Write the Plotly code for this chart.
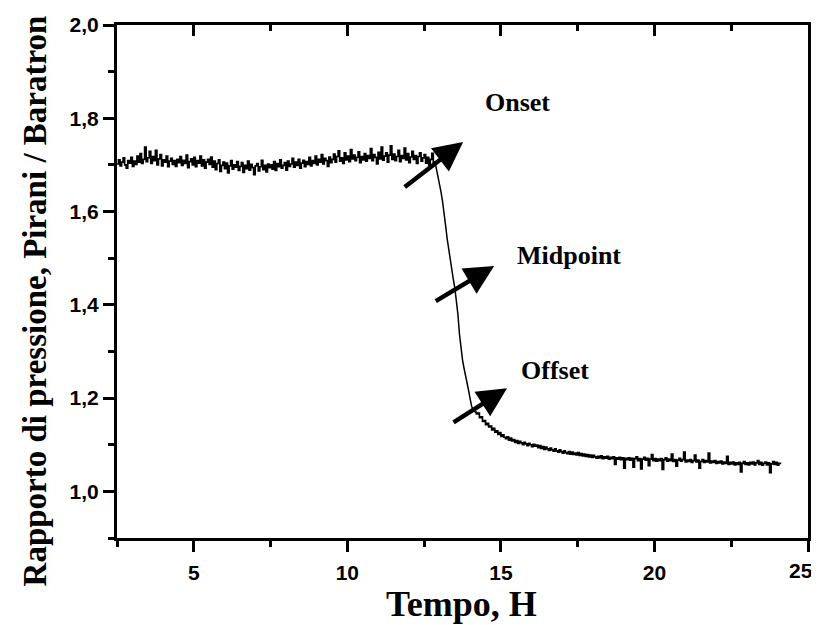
import numpy as np
import plotly.graph_objects as go

# ---------------- data ----------------
# noisy plateau, sampled every 0.05 h from 2.5 h
base_t0, base_dt = 2.5, 0.05
base_y = [
    1.702, 1.711, 1.698, 1.706, 1.715, 1.700, 1.693, 1.709, 1.704, 1.716, 1.697, 1.708, 1.701, 1.719, 1.706, 1.724, 1.703, 1.712, 1.738, 1.707,
    1.715, 1.729, 1.703, 1.718, 1.709, 1.731, 1.700, 1.713, 1.722, 1.698, 1.711, 1.706, 1.719, 1.696, 1.708, 1.714, 1.701, 1.709, 1.697, 1.712,
    1.705, 1.718, 1.699, 1.710, 1.703, 1.721, 1.694, 1.707, 1.713, 1.700, 1.716, 1.696, 1.709, 1.704, 1.719, 1.698, 1.711, 1.693, 1.706, 1.712,
    1.701, 1.717, 1.695, 1.708, 1.690, 1.703, 1.711, 1.686, 1.699, 1.706, 1.692, 1.704, 1.683, 1.698, 1.709, 1.691, 1.700, 1.695, 1.707, 1.688,
    1.697, 1.705, 1.684, 1.699, 1.692, 1.708, 1.689, 1.701, 1.694, 1.679, 1.698, 1.703, 1.687, 1.696, 1.710, 1.690, 1.699, 1.685, 1.702, 1.694,
    1.700, 1.691, 1.707, 1.688, 1.703, 1.696, 1.711, 1.693, 1.699, 1.705, 1.689, 1.708, 1.697, 1.702, 1.714, 1.695, 1.706, 1.699, 1.712, 1.693,
    1.704, 1.710, 1.696, 1.707, 1.701, 1.716, 1.698, 1.709, 1.703, 1.719, 1.700, 1.712, 1.706, 1.722, 1.702, 1.714, 1.709, 1.697, 1.717, 1.705,
    1.712, 1.723, 1.706, 1.718, 1.730, 1.708, 1.715, 1.703, 1.726, 1.711, 1.719, 1.707, 1.733, 1.713, 1.721, 1.709, 1.716, 1.728, 1.705, 1.718,
    1.711, 1.724, 1.708, 1.720, 1.714, 1.735, 1.709, 1.722, 1.716, 1.702, 1.727, 1.713, 1.738, 1.710, 1.719, 1.726, 1.706, 1.721, 1.741, 1.712,
    1.723, 1.709, 1.718, 1.731, 1.707, 1.720, 1.714, 1.736, 1.711, 1.724, 1.705, 1.717, 1.729, 1.712, 1.720, 1.703, 1.718, 1.726, 1.708, 1.715,
    1.722, 1.704, 1.716, 1.697, 1.712, 1.725, 1.700, 1.708,
]

# transition
trans_t = [12.90, 12.95, 13.00, 13.05, 13.10, 13.15, 13.20, 13.25, 13.30, 13.35, 13.40, 13.45, 13.50,
           13.55, 13.60, 13.65, 13.70, 13.75, 13.80, 13.85, 13.90, 13.95, 14.00, 14.05, 14.10]
trans_y = [1.692, 1.680, 1.662, 1.642, 1.622, 1.600, 1.570, 1.542, 1.518, 1.494, 1.474, 1.455, 1.436,
           1.412, 1.380, 1.338, 1.305, 1.282, 1.264, 1.250, 1.235, 1.216, 1.198, 1.182, 1.174]

# low plateau, sampled every 0.05 h from 14.15 h
tail_t0, tail_dt = 14.15, 0.05
tail_y = [
    1.170, 1.166, 1.168, 1.158, 1.160, 1.150, 1.152, 1.143, 1.146, 1.138, 1.140, 1.132, 1.135, 1.127, 1.130, 1.122, 1.126, 1.118, 1.121, 1.116,
    1.113, 1.117, 1.110, 1.114, 1.108, 1.111, 1.105, 1.109, 1.103, 1.107, 1.104, 1.100, 1.105, 1.102, 1.098, 1.103, 1.100, 1.096, 1.101, 1.097,
    1.099, 1.094, 1.098, 1.092, 1.096, 1.090, 1.095, 1.091, 1.088, 1.093, 1.089, 1.086, 1.091, 1.087, 1.084, 1.089, 1.085, 1.082, 1.087, 1.083,
    1.081, 1.085, 1.080, 1.084, 1.079, 1.082, 1.078, 1.083, 1.077, 1.081, 1.076, 1.080, 1.075, 1.079, 1.074, 1.078, 1.073, 1.077, 1.074, 1.071,
    1.075, 1.072, 1.076, 1.070, 1.074, 1.071, 1.075, 1.069, 1.073, 1.070, 1.074, 1.058, 1.072, 1.069, 1.073, 1.068, 1.072, 1.050, 1.071, 1.068,
    1.072, 1.067, 1.071, 1.052, 1.070, 1.074, 1.066, 1.070, 1.048, 1.069, 1.073, 1.067, 1.071, 1.055, 1.069, 1.079, 1.066, 1.070, 1.065, 1.069,
    1.066, 1.070, 1.047, 1.068, 1.072, 1.065, 1.069, 1.066, 1.080, 1.064, 1.068, 1.054, 1.067, 1.071, 1.065, 1.068, 1.084, 1.063, 1.067, 1.064,
    1.068, 1.062, 1.066, 1.078, 1.063, 1.067, 1.050, 1.064, 1.068, 1.062, 1.066, 1.063, 1.082, 1.061, 1.065, 1.062, 1.066, 1.060, 1.064, 1.061,
    1.065, 1.059, 1.063, 1.060, 1.075, 1.058, 1.062, 1.059, 1.063, 1.057, 1.061, 1.058, 1.062, 1.042, 1.060, 1.064, 1.058, 1.061, 1.057, 1.062,
    1.059, 1.063, 1.057, 1.061, 1.066, 1.058, 1.062, 1.056, 1.060, 1.063, 1.057, 1.061, 1.040, 1.059, 1.064, 1.058, 1.062, 1.056, 1.060, 1.058,
]

# annotations (labels and arrows)
label_text = ["Onset", "Midpoint", "Offset"]
label_x = [15.53, 17.22, 16.77]
label_y = [1.833, 1.506, 1.260]
arrow_tail_x = [11.82, 12.83, 13.41]
arrow_tail_y = [1.650, 1.406, 1.146]
arrow_head_x = [13.77, 14.78, 15.20]
arrow_head_y = [1.749, 1.483, 1.221]

x_ticks = [5, 10, 15, 20, 25]
x_tick_text = ["5", "10", "15", "20", ""]   # last label drawn separately (sits at the page edge)
x_last_label = "25"
x_minor = [2.5, 7.5, 12.5, 17.5, 22.5]
y_ticks = [1.0, 1.2, 1.4, 1.6, 1.8, 2.0]
y_minor = [0.9, 1.1, 1.3, 1.5, 1.7, 1.9]
y2_ticks = [1.174, 1.450, 1.721]
y2_minor = [1.036, 1.312, 1.588, 1.863]

# ---------------- build series ----------------
base_t = list(np.round(base_t0 + base_dt * np.arange(len(base_y)), 3))
tail_t = list(np.round(tail_t0 + tail_dt * np.arange(len(tail_y)), 3))

fig = go.Figure()
line_style = dict(color="black", width=1.7)
fig.add_trace(go.Scatter(x=base_t, y=base_y, mode="lines",
                         line=dict(**line_style, shape="hv"),
                         showlegend=False, hoverinfo="skip"))
fig.add_trace(go.Scatter(x=[base_t[-1]] + trans_t + [tail_t[0]],
                         y=[base_y[-1]] + trans_y + [tail_y[0]], mode="lines",
                         line=dict(color="black", width=1.5),
                         showlegend=False, hoverinfo="skip"))
fig.add_trace(go.Scatter(x=tail_t, y=tail_y, mode="lines",
                         line=dict(**line_style, shape="hv"),
                         showlegend=False, hoverinfo="skip"))
# helper traces so the mirror axes are drawn
fig.add_trace(go.Scatter(x=[None], y=[None], xaxis="x2", yaxis="y", showlegend=False))
fig.add_trace(go.Scatter(x=[None], y=[None], xaxis="x", yaxis="y2", showlegend=False))

tickfont = dict(family="Liberation Sans", size=21, color="black", weight="bold")
serif = "Liberation Serif"
LW = 3

common = dict(showgrid=False, zeroline=False, showline=True, linecolor="black",
              linewidth=LW, tickcolor="black", tickwidth=2.5, automargin=False,
              ticklabeloverflow="allow")

# the page body adds an 8 px offset, so the figure is 8 px smaller on each axis
fig.update_layout(
    width=811, height=617,
    margin=dict(l=109, r=11, t=17, b=87, autoexpand=False),
    paper_bgcolor="white", plot_bgcolor="white",
    separators=",.",
    xaxis=dict(range=[2.5, 25], tickvals=x_ticks, ticktext=x_tick_text,
               ticks="outside", ticklen=11,
               tickfont=tickfont, ticklabelstandoff=3,
               minor=dict(tickvals=x_minor, ticks="outside", ticklen=6,
                          tickcolor="black", tickwidth=2.5),
               **common),
    xaxis2=dict(range=[2.5, 25], overlaying="x", side="top", tickvals=x_ticks,
                ticks="inside", ticklen=11, showticklabels=False,
                minor=dict(tickvals=x_minor[1:], ticks="inside", ticklen=6,
                           tickcolor="black", tickwidth=2.5),
                **common),
    yaxis=dict(range=[0.9, 2.0], tickvals=y_ticks, tickformat=".1f",
               ticks="outside", ticklen=11, tickfont=tickfont,
               minor=dict(tickvals=y_minor, ticks="outside", ticklen=6,
                          tickcolor="black", tickwidth=2.5),
               **common),
    yaxis2=dict(range=[0.9, 2.0], overlaying="y", side="right", tickvals=y2_ticks,
                ticks="outside", ticklen=11, showticklabels=False,
                minor=dict(tickvals=y2_minor, ticks="outside", ticklen=6,
                           tickcolor="black", tickwidth=2.5),
                **common),
)

annotations = []
for tx, ty, hx, hy in zip(arrow_tail_x, arrow_tail_y, arrow_head_x, arrow_head_y):
    annotations.append(dict(x=hx, y=hy, ax=tx, ay=ty, xref="x", yref="y",
                            axref="x", ayref="y", text="", showarrow=True,
                            arrowhead=2, arrowsize=1.3, arrowwidth=4.5,
                            arrowcolor="black", standoff=0, startstandoff=0))
for txt, lx, ly in zip(label_text, label_x, label_y):
    annotations.append(dict(x=lx, y=ly, xref="x", yref="y", text=txt, showarrow=False,
                            font=dict(family=serif, size=26, color="black", weight="bold")))
# last x tick label, nudged left so it stays on the page
annotations.append(dict(x=x_ticks[-1], y=-0.063, xref="x", yref="paper", text=x_last_label,
                        showarrow=False, xanchor="center", yanchor="middle", xshift=-7,
                        font=tickfont))
# axis titles (paper coords relative to the plot area)
annotations.append(dict(x=0.499, y=-0.129, xref="paper", yref="paper", text="Tempo, H",
                        showarrow=False, xanchor="center", yanchor="middle",
                        font=dict(family=serif, size=36, color="black", weight="bold")))
annotations.append(dict(x=-0.118, y=0.462, xref="paper", yref="paper",
                        text="Rapporto di pressione, Pirani / Baratron",
                        textangle=-90, showarrow=False, xanchor="center", yanchor="middle",
                        font=dict(family=serif, size=33, color="black", weight="bold")))
fig.update_layout(annotations=annotations)

fig.write_html("out.html")
